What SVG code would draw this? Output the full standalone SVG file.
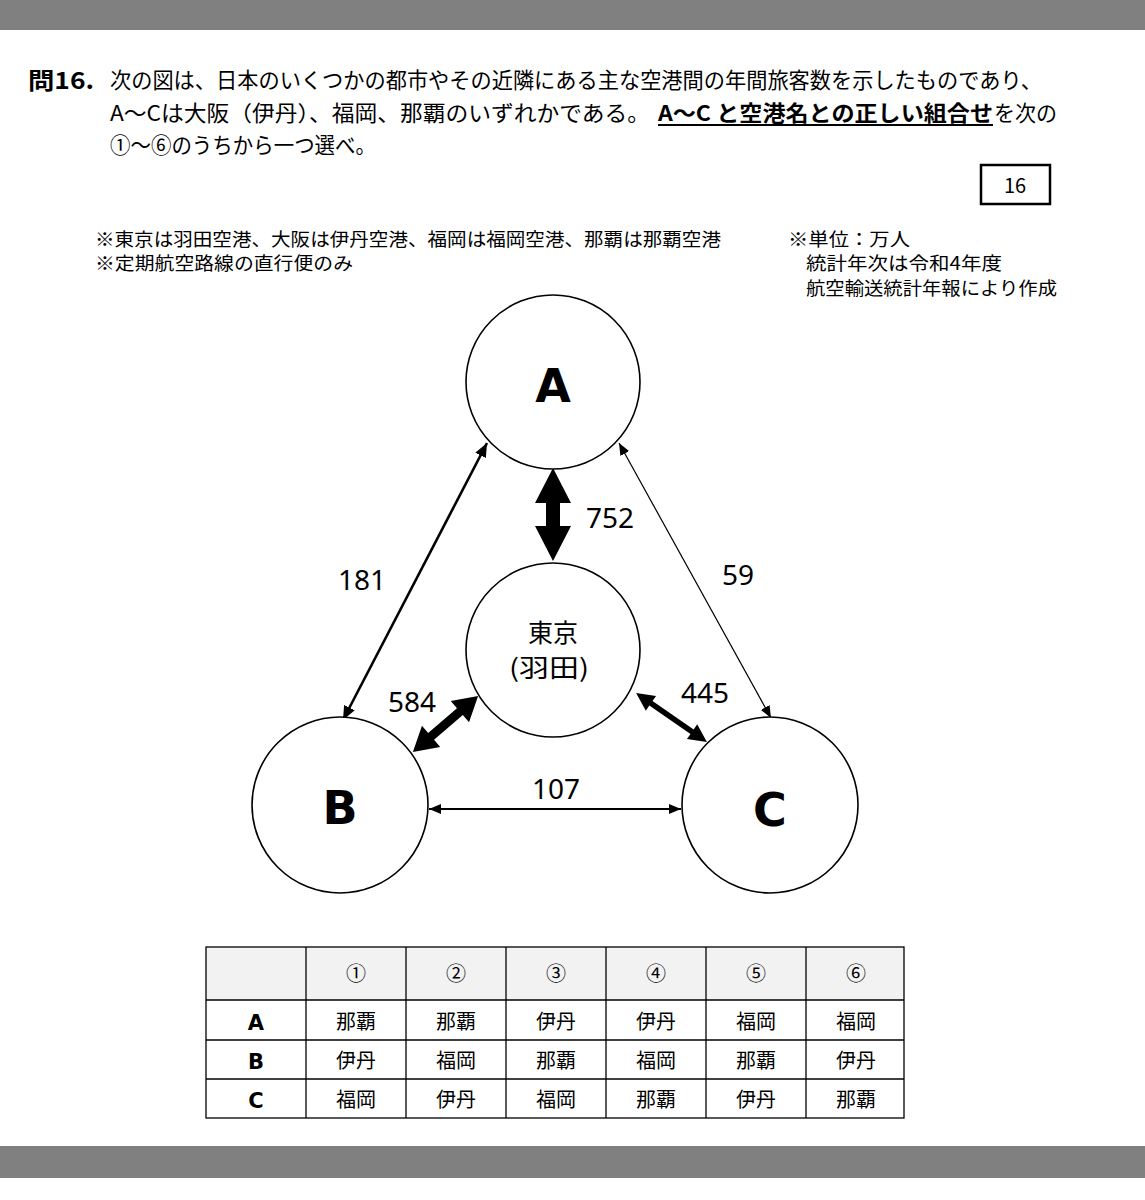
<svg xmlns="http://www.w3.org/2000/svg" width="1145" height="1200" viewBox="0 0 1145 1200">
<style>
.jp{font-family:"Noto Sans CJK JP","Noto Sans",sans-serif;fill:#000}
.num{font-family:"Noto Sans","DejaVu Sans",sans-serif;fill:#000;font-size:28px;text-anchor:middle}
.big{font-family:"DejaVu Sans",sans-serif;font-weight:bold;font-size:46px;text-anchor:middle;fill:#000}
.node{fill:#fff;stroke:#000;stroke-width:1.6}
.grid{stroke:#000;stroke-width:1.3;fill:none}
.cell{font-family:"Noto Sans CJK JP",sans-serif;font-size:20px;text-anchor:middle;fill:#000}
.rl{font-family:"DejaVu Sans",sans-serif;font-weight:bold;font-size:21px;text-anchor:middle;fill:#000}
</style>
<defs>
<marker id="ah" viewBox="0 0 12 10" refX="12" refY="5" markerWidth="12" markerHeight="10" markerUnits="userSpaceOnUse" orient="auto-start-reverse"><path d="M0,0 L12,5 L0,10 z" fill="#000"/></marker>
<marker id="ah2" viewBox="0 0 14 12" refX="14" refY="6" markerWidth="14" markerHeight="12" markerUnits="userSpaceOnUse" orient="auto-start-reverse"><path d="M0,0 L14,6 L0,12 z" fill="#000"/></marker>
</defs>
<rect x="0" y="0" width="1145" height="1200" fill="#fff"/>
<rect x="0" y="0" width="1145" height="30" fill="#808080"/>
<rect x="0" y="1146" width="1145" height="32" fill="#808080"/>

<g id="question">
<text x="28" y="89" class="jp" font-size="23" font-weight="bold" textLength="66" lengthAdjust="spacingAndGlyphs">問16.</text>
<text x="110" y="88" class="jp" font-size="21.5" textLength="932" lengthAdjust="spacingAndGlyphs">次の図は、日本のいくつかの都市やその近隣にある主な空港間の年間旅客数を示したものであり、</text>
<text x="110" y="121" class="jp" font-size="21.5" textLength="540" lengthAdjust="spacingAndGlyphs">A〜Cは大阪（伊丹）、福岡、那覇のいずれかである。</text>
<text x="658" y="121" class="jp" font-size="21.5" font-weight="bold" textLength="335" lengthAdjust="spacingAndGlyphs">A〜C と空港名との正しい組合せ</text>
<line x1="658" y1="125" x2="993" y2="125" stroke="#000" stroke-width="1.8"/>
<text x="994" y="121" class="jp" font-size="21.5" textLength="63" lengthAdjust="spacingAndGlyphs">を次の</text>
<text x="110" y="153" class="jp" font-size="21.5" textLength="266" lengthAdjust="spacingAndGlyphs">①〜⑥のうちから一つ選べ。</text>
</g>
<g id="answer-box">
<rect x="981" y="165" width="69" height="39" fill="#fff" stroke="#000" stroke-width="2.5"/>
<text x="1015" y="193" class="jp" font-size="20" text-anchor="middle">16</text>
</g>
<g id="notes">
<text x="95" y="246" class="jp" font-size="18.5" textLength="626" lengthAdjust="spacingAndGlyphs">※東京は羽田空港、大阪は伊丹空港、福岡は福岡空港、那覇は那覇空港</text>
<text x="95" y="270" class="jp" font-size="18.5" textLength="258" lengthAdjust="spacingAndGlyphs">※定期航空路線の直行便のみ</text>
<text x="788" y="246" class="jp" font-size="18.5" textLength="122" lengthAdjust="spacingAndGlyphs">※単位：万人</text>
<text x="806" y="270" class="jp" font-size="18.5" textLength="196" lengthAdjust="spacingAndGlyphs">統計年次は令和4年度</text>
<text x="806" y="295" class="jp" font-size="18.5" textLength="251" lengthAdjust="spacingAndGlyphs">航空輸送統計年報により作成</text>
</g>

<g id="connectors">
<polygon points="553,468 571,503 560,503 560,526 571,526 553,561 535,526 546,526 546,503 535,503" fill="#000"/>
<g transform="translate(445.5,724) rotate(-40.7)">
<polygon points="-43,0 -19,-14 -19,-4.5 19,-4.5 19,-14 43,0 19,14 19,4.5 -19,4.5 -19,14" fill="#000"/>
</g>
<g transform="translate(671.5,717.5) rotate(34.6)">
<polygon points="-43,0 -25,-9 -25,-2.8 25,-2.8 25,-9 43,0 25,9 25,2.8 -25,2.8 -25,9" fill="#000"/>
</g>
<line x1="487" y1="443" x2="343" y2="720" stroke="#000" stroke-width="2.6" marker-start="url(#ah2)" marker-end="url(#ah2)"/>
<line x1="619" y1="443" x2="771" y2="718" stroke="#000" stroke-width="1.2" marker-start="url(#ah)" marker-end="url(#ah)"/>
<line x1="429" y1="809" x2="681" y2="809" stroke="#000" stroke-width="2" marker-start="url(#ah)" marker-end="url(#ah)"/>
<text x="610" y="528" class="num">752</text>
<text x="362" y="590" class="num">181</text>
<text x="738" y="585" class="num">59</text>
<text x="412" y="712" class="num">584</text>
<text x="705" y="703" class="num">445</text>
<text x="556" y="799" class="num">107</text>
</g>

<g id="node-A">
<circle cx="553" cy="382" r="87" class="node"/>
<text x="553" y="402" class="big">A</text>
</g>
<g id="node-tokyo">
<circle cx="553" cy="650" r="87" class="node"/>
<text x="553" y="642" class="jp" font-size="25" text-anchor="middle">東京</text>
<text x="549" y="677" class="jp" font-size="25" text-anchor="middle" textLength="80" lengthAdjust="spacingAndGlyphs">(羽田)</text>
</g>
<g id="node-B">
<circle cx="340" cy="805" r="88" class="node"/>
<text x="340" y="824" class="big">B</text>
</g>
<g id="node-C">
<circle cx="770" cy="805" r="88" class="node"/>
<text x="770" y="826" class="big">C</text>
</g>

<g id="table">
<rect x="206" y="947" width="698" height="53" fill="#f2f2f2"/>
<rect x="206" y="947" width="698" height="171" class="grid"/>
<line x1="206" y1="1000" x2="904" y2="1000" class="grid"/>
<line x1="206" y1="1040" x2="904" y2="1040" class="grid"/>
<line x1="206" y1="1079" x2="904" y2="1079" class="grid"/>
<line x1="306" y1="947" x2="306" y2="1118" class="grid"/>
<line x1="406" y1="947" x2="406" y2="1118" class="grid"/>
<line x1="506" y1="947" x2="506" y2="1118" class="grid"/>
<line x1="606" y1="947" x2="606" y2="1118" class="grid"/>
<line x1="706" y1="947" x2="706" y2="1118" class="grid"/>
<line x1="806" y1="947" x2="806" y2="1118" class="grid"/>
<text x="356" y="981" class="cell" font-size="21">①</text>
<text x="456" y="981" class="cell" font-size="21">②</text>
<text x="556" y="981" class="cell" font-size="21">③</text>
<text x="656" y="981" class="cell" font-size="21">④</text>
<text x="756" y="981" class="cell" font-size="21">⑤</text>
<text x="856" y="981" class="cell" font-size="21">⑥</text>
<text x="256" y="1030" class="rl">A</text>
<text x="256" y="1069" class="rl">B</text>
<text x="256" y="1108" class="rl">C</text>
<text x="356" y="1029" class="cell">那覇</text>
<text x="456" y="1029" class="cell">那覇</text>
<text x="556" y="1029" class="cell">伊丹</text>
<text x="656" y="1029" class="cell">伊丹</text>
<text x="756" y="1029" class="cell">福岡</text>
<text x="856" y="1029" class="cell">福岡</text>
<text x="356" y="1068" class="cell">伊丹</text>
<text x="456" y="1068" class="cell">福岡</text>
<text x="556" y="1068" class="cell">那覇</text>
<text x="656" y="1068" class="cell">福岡</text>
<text x="756" y="1068" class="cell">那覇</text>
<text x="856" y="1068" class="cell">伊丹</text>
<text x="356" y="1107" class="cell">福岡</text>
<text x="456" y="1107" class="cell">伊丹</text>
<text x="556" y="1107" class="cell">福岡</text>
<text x="656" y="1107" class="cell">那覇</text>
<text x="756" y="1107" class="cell">伊丹</text>
<text x="856" y="1107" class="cell">那覇</text>
</g>
</svg>
